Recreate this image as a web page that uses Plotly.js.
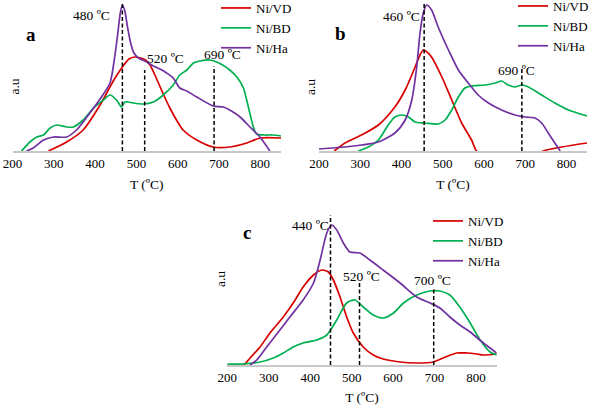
<!DOCTYPE html>
<html>
<head>
<meta charset="utf-8">
<script src="https://cdn.plot.ly/plotly-3.0.1.min.js"></script>
<style>html,body{margin:0;padding:0;background:#fff;}#chart{width:591px;height:405px;}</style>
</head>
<body>
<div id="chart"></div>
<script>
// ---------- Data (T in °C, intensity in arbitrary units) ----------
const seriesNames = ["Ni/VD", "Ni/BD", "Ni/Ha"];
const tickLabels = ["200", "300", "400", "500", "600", "700", "800"];

// Panel a
const a_VD_T = [287,331,371,412,444,466,482,496,510,522,533,549,565,581,597,613,646,686,726,767,799,850];
const a_VD_I = [0,9,21,46,70,84,92,94,93,91,86,72,57,43,31,21,11,4,4,8,13,13];
const a_BD_T = [222,242,259,275,291,307,331,347,371,396,420,436,452,464,472,480,492,517,541,565,589,605,622,638,654,678,700,726,745,759,771,783,791,810,830,850];
const a_BD_I = [0,9,14,16,23,26,24,24,31,43,51,56,51,44,49,49,48,47,49,56,66,76,81,88,90,91,88,81,73,63,44,24,17,16,16,15];
const a_Ha_T = [234,250,275,299,331,355,380,412,436,446,455,461,466,472,478,486,494,505,525,541,557,573,589,605,622,646,686,710,730,751,775,799,823];
const a_Ha_I = [0,3,11,14,14,21,34,52,68,90,118,138,146,140,125,108,98,93,89,85,82,78,73,63,60,54,45,44,40,34,24,14,0];
const a_peakT = [466,520,688];
const a_peakTop = [147,81,85];
const a_peakLabels = ["480 ºC","520 ºC","690 ºC"];

// Panel b
const b_VD_T = [237,263,303,344,384,409,433,446,453,462,473,498,522,546,570,582,620,700,744,789,850];
const b_VD_I = [0,8,16,26,44,61,84,97,101,99,94,74,51,28,11,0,-10,-10,0,4,8];
const b_BD_T = [295,320,344,368,384,401,417,433,457,489,506,522,538,554,570,603,627,643,659,675,692,708,740,772,805,850];
const b_BD_I = [0,4,11,26,34,36,34,29,28,27,31,41,54,63,65,66,68,70,66,64,66,64,56,48,41,35];
const b_Ha_T = [200,263,303,344,384,409,425,437,445,453,461,473,489,514,538,562,586,611,643,675,700,724,740,756,772,785];
const b_Ha_I = [2,4,6,9,18,31,51,84,118,138,146,141,124,101,81,68,56,48,41,36,34,33,28,18,8,0];
const b_peakT = [455,692];
const b_peakTop = [149,84];
const b_peakLabels = ["460 ºC","690 ºC"];

// Panel c
const c_VD_T = [200,239,255,279,303,335,359,383,408,428,444,456,472,488,504,528,552,576,617,657,697,721,753,778,802,818,850];
const c_VD_I = [0,0,7,18,32,48,62,78,90,95,93,85,68,48,32,18,10,6,3,2,3,7,12,12,11,10,11];
const c_BD_T = [200,239,279,311,335,359,383,416,440,464,488,508,528,552,576,601,625,657,689,713,737,761,786,810,834,850];
const c_BD_I = [1,1,3,7,12,18,22,25,30,45,62,65,58,50,47,52,62,70,74,74,70,58,42,25,13,10];
const c_Ha_T = [255,271,295,327,351,383,408,424,440,452,464,480,496,520,544,576,617,657,689,713,737,761,786,818,850];
const c_Ha_I = [0,5,18,35,48,65,82,105,132,140,135,122,113,112,105,95,82,68,62,57,48,40,33,22,12];
const c_peakT = [449,519,698];
const c_peakTop = [150,82,77];
const c_peakLabels = ["440 ºC","520 ºC","700 ºC"];

// ---------- Styling ----------
const colors = {"Ni/VD": "#d80000", "Ni/BD": "#00b050", "Ni/Ha": "#7030a0"};
const FONT = "Liberation Serif, serif";
const FS = 13.5;

function curve(name, x, y, xa, ya, legendId) {
  return {type: "scatter", mode: "lines", name: name, x: x, y: y, xaxis: xa, yaxis: ya,
          legend: legendId, line: {color: colors[name], width: 1.7, shape: "spline", smoothing: 0.7},
          hoverinfo: "skip"};
}
function peakLines(T, top, xa, ya) {
  const x = [], y = [];
  T.forEach((t, i) => { x.push(t, t, null); y.push(0, top[i], null); });
  return {type: "scatter", mode: "lines", x: x, y: y, xaxis: xa, yaxis: ya, showlegend: false,
          line: {color: "#000", width: 1.5, dash: "4px,2.5px"}, hoverinfo: "skip"};
}

const data = [
  curve("Ni/VD", a_VD_T, a_VD_I, "x", "y", "legend"),
  curve("Ni/BD", a_BD_T, a_BD_I, "x", "y", "legend"),
  curve("Ni/Ha", a_Ha_T, a_Ha_I, "x", "y", "legend"),
  peakLines(a_peakT, a_peakTop, "x", "y"),
  curve("Ni/VD", b_VD_T, b_VD_I, "x2", "y2", "legend2"),
  curve("Ni/BD", b_BD_T, b_BD_I, "x2", "y2", "legend2"),
  curve("Ni/Ha", b_Ha_T, b_Ha_I, "x2", "y2", "legend2"),
  peakLines(b_peakT, b_peakTop, "x2", "y2"),
  curve("Ni/VD", c_VD_T, c_VD_I, "x3", "y3", "legend3"),
  curve("Ni/BD", c_BD_T, c_BD_I, "x3", "y3", "legend3"),
  curve("Ni/Ha", c_Ha_T, c_Ha_I, "x3", "y3", "legend3"),
  peakLines(c_peakT, c_peakTop, "x3", "y3")
];

const tickVals = tickLabels.map(Number);
function xAxis(domain, anchor) {
  return {domain: domain, anchor: anchor, range: [200, 850], showline: true, linecolor: "#c8c8c8",
          linewidth: 1.5, showgrid: false, zeroline: false, ticks: "", tickvals: tickVals, ticktext: tickLabels,
          tickfont: {family: FONT, size: 13, color: "#000"}, automargin: false, fixedrange: true,
          title: {text: "T (ºC)", font: {family: FONT, size: FS, color: "#000"}, standoff: 9}};
}
function yAxis(domain, anchor, top) {
  return {domain: domain, anchor: anchor, range: [0, top], visible: false, fixedrange: true};
}
function legendAt(x, y) {
  return {x: x, y: y, xanchor: "left", yanchor: "top", bgcolor: "rgba(0,0,0,0)",
          font: {family: FONT, size: 13, color: "#000"}, tracegroupgap: 0};
}
function ann(text, x, y, xref, yref, extra) {
  return Object.assign({text: text, x: x, y: y, xref: xref, yref: yref, showarrow: false,
          font: {family: FONT, size: FS, color: "#000"}}, extra || {});
}
const letterFont = {family: FONT, size: 19, color: "#000"};

const annotations = [
  ann(a_peakLabels[0], 392, 136, "x", "y"),
  ann(a_peakLabels[1], 571, 93, "x", "y"),
  ann(a_peakLabels[2], 709, 97, "x", "y"),
  ann(b_peakLabels[0], 401, 135, "x2", "y2"),
  ann(b_peakLabels[1], 680, 81, "x2", "y2"),
  ann(c_peakLabels[0], 400, 140, "x3", "y3"),
  ann(c_peakLabels[1], 523, 89, "x3", "y3"),
  ann(c_peakLabels[2], 696, 85, "x3", "y3"),
  ann("<b>a</b>", 24/591, 1 - 22/405, "paper", "paper", {font: letterFont}),
  ann("<b>b</b>", 340/591, 1 - 21/405, "paper", "paper", {font: letterFont}),
  ann("<b>c</b>", 247/591, 1 - 232/405, "paper", "paper", {font: letterFont}),
  ann("a.u", 5/591, 1 - 77/405, "paper", "paper", {textangle: -90}),
  ann("a.u", 311/591, 1 - 77/405, "paper", "paper", {textangle: -90}),
  ann("a.u", 220/591, 1 - 289/405, "paper", "paper", {textangle: -90})
];

const layout = {
  width: 591, height: 405, margin: {l: 0, r: 0, t: 0, b: 0, autoexpand: false},
  paper_bgcolor: "#fff", plot_bgcolor: "rgba(0,0,0,0)",
  font: {family: FONT, size: FS, color: "#000"},
  xaxis: xAxis([12.5/591, 281/591], "y"),
  yaxis: yAxis([1 - 151/405, 1], "x", 151),
  xaxis2: xAxis([319/591, 587/591], "y2"),
  yaxis2: yAxis([1 - 151/405, 1], "x2", 151),
  xaxis3: xAxis([227.3/591, 496.7/591], "y3"),
  yaxis3: yAxis([1 - 365/405, 1 - 205/405], "x3", 160),
  legend: legendAt(216/591, 1 + 7/405),
  legend2: legendAt(513/591, 1 + 9/405),
  legend3: legendAt(428/591, 1 - 206/405),
  annotations: annotations,
  showlegend: true
};

Plotly.newPlot("chart", data, layout, {staticPlot: true, displayModeBar: false});
</script>
</body>
</html>
